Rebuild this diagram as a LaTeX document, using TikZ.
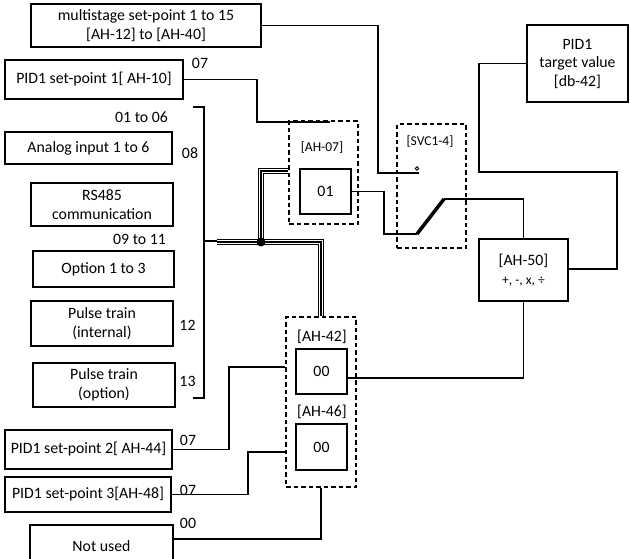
\documentclass[tikz,border=0pt]{standalone}
\usepackage{fontspec}
\setmainfont{Carlito}
\begin{document}
\begin{tikzpicture}[x=1pt,y=-1pt,
  box/.style={draw,line width=1.8pt,inner sep=0pt,align=center,font=\fontsize{15.8}{18.5}\selectfont},
  dbox/.style={draw,line width=1.7pt,dash pattern=on 4.5pt off 3pt,inner sep=0pt},
  wire/.style={line width=1.8pt},
  lbl/.style={inner sep=0pt,font=\fontsize{15.8}{18.5}\selectfont},
  slbl/.style={inner sep=0pt,font=\fontsize{13.5}{15}\selectfont}]
\useasboundingbox (0,0) rectangle (630,558);
\clip (0,0) rectangle (630,558);

% left column boxes
\node[box,minimum width=230pt,minimum height=43pt] (ms) at (146,25.5) {multistage set-point 1 to 15\\{}[AH-12] to [AH-40]};
\node[box,minimum width=178pt,minimum height=39pt] (sp1) at (94,79.5) {PID1 set-point 1[ AH-10]};
\node[box,minimum width=167pt,minimum height=32pt] (ai) at (88.5,148) {Analog input 1 to 6};
\node[box,minimum width=142pt,minimum height=43pt] (rs) at (102,204.5) {RS485\\communication};
\node[box,minimum width=141pt,minimum height=36pt] (opt) at (103.5,269) {Option 1 to 3};
\node[box,minimum width=142pt,minimum height=45pt] (pti) at (102,323.5) {Pulse train\\(internal)};
\node[box,minimum width=142pt,minimum height=44pt] (pto) at (104,385) {Pulse train\\(option)};
\node[box,minimum width=167pt,minimum height=39pt] (sp2) at (88.5,449.5) {PID1 set-point 2[ AH-44]};
\node[box,minimum width=166pt,minimum height=35pt] (sp3) at (88,494.5) {PID1 set-point 3[AH-48]};
\node[box,minimum width=143pt,minimum height=42pt] (nu) at (101.5,546) {Not used};

% right boxes
\node[box,minimum width=101pt,minimum height=77pt] (tgt) at (577.5,63.5) {PID1\\target value\\{}[db-42]};
\node[box,minimum width=89pt,minimum height=62pt] (ah50) at (523.5,270) {[AH-50]\\{\fontsize{13.5}{16}\selectfont +, -, x, ÷}};

% dashed groups
\node[dbox,minimum width=69pt,minimum height=103pt] (g07) at (323.5,172.5) {};
\node[dbox,minimum width=69pt,minimum height=124pt] (gsvc) at (431.5,186) {};
\node[dbox,minimum width=70pt,minimum height=170pt] (g42) at (321,402) {};

% inner boxes
\node[box,minimum width=51pt,minimum height=45pt] (b01) at (325.5,191.5) {01};
\node[box,minimum width=51pt,minimum height=45pt] (b00a) at (321.5,371.5) {00};
\node[box,minimum width=51pt,minimum height=46pt] (b00b) at (321.5,447) {00};

% labels
\node[lbl] (l07a) at (200,63) {07};
\node[lbl] (l0106) at (141.5,117) {01 to 06};
\node[lbl] (l08) at (190,153) {08};
\node[lbl] (l0911) at (139.5,239) {09 to 11};
\node[lbl] (l12) at (187.5,325) {12};
\node[lbl] (l13) at (187.5,381) {13};
\node[lbl] (l07b) at (188,440) {07};
\node[lbl] (l07c) at (188,490) {07};
\node[lbl] (l00) at (188,523) {00};
\node[slbl] (lah07) at (322,148) {[AH-07]};
\node[slbl] (lsvc) at (430,142) {[SVC1-4]};
\node[lbl] (lah42) at (322,337) {[AH-42]};
\node[lbl] (lah46) at (322,412) {[AH-46]};

% switch
\coordinate (bl) at (417,234);
\coordinate (br) at (444,199);
\node[circle,draw,line width=0.9pt,inner sep=0pt,minimum size=3.5pt] (cont) at (417,168.5) {};
\draw[line width=3.5pt] (bl) -- (br);

% connectors
\draw[wire] (ms.east) -| (378,173) -- (419,173);
\draw[wire] (sp1.east) -| (257,122) -- (330,122);
\draw[wire] (b01.east) -| (384,234) -- (bl);
\draw[wire] (br) -| (ah50.north);
\draw[wire] (tgt.west) -| (479,172) -| (617,269) -- (ah50.east |- 0,269);
\draw[wire] (ah50.south) |- (b00a.east |- 0,378);
\draw[wire] (sp2.east) -| (229,367) -- (g42.west |- 0,367);
\draw[wire] (sp3.east) -| (248,452) -- (g42.west |- 0,452);
\draw[wire] (nu.east |- 0,539) -| (g42.south);

% bracket
\draw[wire] (193,107) -| (204,398) -- (193,398);
\draw[wire] (204,241) -- (217,241);

% bus
\foreach \w/\c in {6.8/black,3.8/white,2.2/black} {
  \draw[line width=\w pt,\c] (217,242) -| (g42.north);
  \draw[line width=\w pt,\c] (261,242) |- (g07.west |- 0,171);
}
\node[circle,fill,inner sep=0pt,minimum size=9pt] (jn) at (261,242) {};
\end{tikzpicture}
\end{document}
